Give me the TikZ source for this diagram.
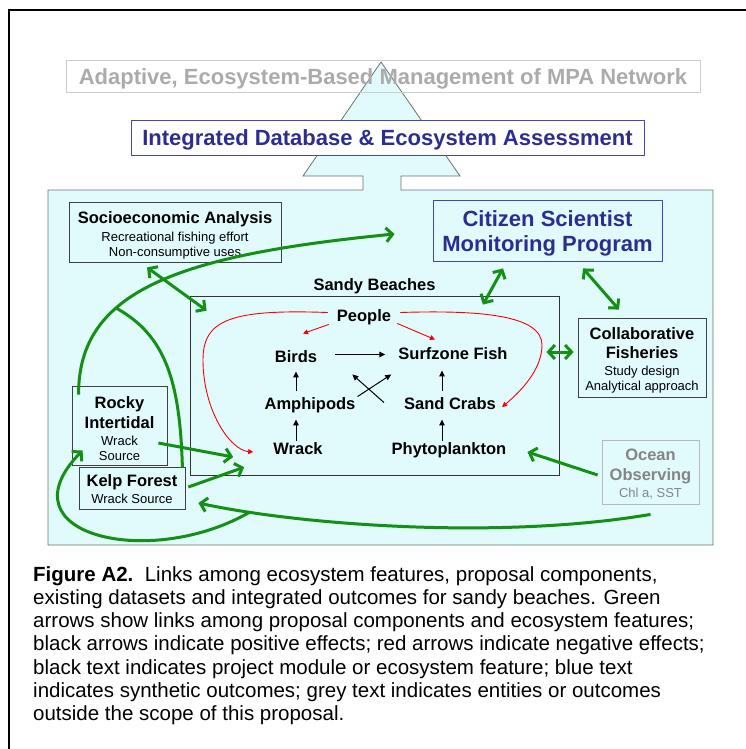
\documentclass[tikz,border=0pt]{standalone}
\usepackage{fontspec}
\setmainfont{Liberation Sans}
\usetikzlibrary{positioning,arrows.meta}

\definecolor{seafill}{RGB}{225,250,252}
\definecolor{edgegrey}{RGB}{105,115,115}
\definecolor{leafgreen}{RGB}{20,145,20}
\definecolor{deepblue}{RGB}{45,45,145}
\definecolor{boxblue}{RGB}{70,70,175}

\newcommand\boxhead{\fontsize{16.5}{19}\selectfont\bfseries}
\newcommand\boxnote{\fontsize{13}{15}\selectfont}
\newcommand\bighead{\fontsize{22}{25}\selectfont\bfseries}
% strut that pushes a box's text a little lower
\newcommand\toplift[1]{\rule{0pt}{#1}}

\begin{document}
\begin{tikzpicture}[x=1pt, y=-1pt,
module/.style={draw=black!75, align=center, inner sep=0pt, line width=0.8pt, font=\boxnote},
outcome/.style={draw=boxblue, text=deepblue, font=\bighead, align=center, inner sep=0pt, line width=0.8pt},
feat/.style={font=\boxhead, inner sep=2pt, text height=12pt, text depth=3.5pt},
link/.style={leafgreen, line width=3pt, -{Straight Barb[length=6.5pt,width=14pt]}},
twoway/.style={link, {Straight Barb[length=6.5pt,width=14pt]}-{Straight Barb[length=6.5pt,width=14pt]}},
gain/.style={-{Triangle[length=6pt,width=5.5pt]}, line width=1pt},
loss/.style={red, -{Triangle[length=5pt,width=5pt]}, line width=0.9pt}
]
\useasboundingbox (0,0) rectangle (746,749);
\draw[line width=1.8pt] (9,749) -- (9,10) -- (746,10);

% panel with the arrow up to the top boxes
\draw[fill=seafill, draw=edgegrey, line width=0.8pt] (48,190) -- (363,190) -- (363,176) -- (303,176)
  -- (381,62) -- (460,176) -- (401,176) -- (401,190) -- (713,190) -- (713,545) -- (48,545) -- cycle;

\node[draw=black!20, text=black!33, font=\bighead, minimum width=634pt, minimum height=32pt, inner sep=0pt] (mgmt) at (383,76) {\toplift{22pt}Adaptive, Ecosystem-Based Management of MPA Network};
\node[outcome, fill=white, minimum width=513pt, minimum height=35pt] (ida) at (387.5,137.5) {\toplift{20pt}Integrated Database \& Ecosystem Assessment};

% modules
\node[module, minimum width=212pt, minimum height=60pt] (socio) at (175,232) {{\boxhead\toplift{18pt}Socioeconomic Analysis}\\[2.7pt]Recreational fishing effort\\Non-consumptive uses};
\node[outcome, minimum width=229pt, minimum height=61pt] (citizen) at (547.5,230.5) {\toplift{22pt}Citizen Scientist\\Monitoring Program};
\node[module, minimum width=128pt, minimum height=79pt] (collab) at (642,357.5) {{\boxhead\toplift{18pt}Collaborative}\\[4pt]{\boxhead Fisheries}\\[1.7pt]Study design\\Analytical approach};
\node[module, fill=seafill, minimum width=95pt, minimum height=79pt] (rocky) at (119.5,425.5) {{\boxhead\toplift{18pt}Rocky}\\[4pt]{\boxhead Intertidal}\\[1.7pt]Wrack\\Source};
\node[module, fill=seafill, minimum width=106pt, minimum height=42pt] (kelp) at (132,488) {{\boxhead\toplift{14pt}Kelp Forest}\\[1.7pt]Wrack Source};
\node[module, draw=black!28, text=black!48, minimum width=97pt, minimum height=64pt] (ocean) at (650.5,472) {{\boxhead\toplift{16pt}Ocean}\\[5pt]{\boxhead Observing}\\[1.7pt]Chl a, SST};

% sandy beach food web
\node[draw=black!80, line width=0.8pt, minimum width=369pt, minimum height=179pt, inner sep=0pt] (beach) at (374.5,385.5) {};
\node[feat, above=-1pt of beach] (beachlbl) {Sandy Beaches};
\node[feat] (people) at (364,317.5) {People};
\node[feat] (birds) at (296,358.5) {Birds};
\node[feat] (fish) at (453,355.5) {Surfzone Fish};
\node[feat] (amph) at (310,405.5) {Amphipods};
\node[feat] (crabs) at (450,405.5) {Sand Crabs};
\node[feat] (wrack) at (298,450.5) {Wrack};
\node[feat] (phyto) at (449,450.5) {Phytoplankton};

\draw[gain, shorten >=4pt] (wrack.north -| birds) -- (amph.south -| birds);
\draw[gain, shorten <=5pt, shorten >=3pt] (amph.north -| birds) -- (birds.south);
\draw[gain, shorten <=16pt, shorten >=11pt] ([yshift=4pt]birds.east) -- ([yshift=4pt]birds.east -| fish.west);
\draw[gain, shorten >=4pt] ([xshift=-7pt]phyto.north) -- ([xshift=-7pt]phyto.north |- crabs.south);
\draw[gain, shorten <=5pt, shorten >=5pt] ([xshift=-8pt]crabs.north) -- ([xshift=-8pt]crabs.north |- fish.south);
\draw[gain] ([yshift=-1pt]amph.north east) -- ([xshift=-5pt,yshift=-9pt]fish.south west);
\draw[gain] ([xshift=-18pt,yshift=3pt]crabs.west) -- ([xshift=33pt,yshift=-6pt]birds.south east);

\draw[loss] ([xshift=-6pt,yshift=3pt]people.south west) -- ([xshift=7pt,yshift=15pt]birds.north);
\draw[loss] ([xshift=4pt,yshift=4pt]people.south east) -- ([xshift=-18pt,yshift=6pt]fish.north);
\draw[loss] ([xshift=-7pt,yshift=5pt]people.west) .. controls (230,309) and (203,320) .. (203,360)
  .. controls (203,410) and (230,450) .. ([xshift=-18pt,yshift=-1.5pt]wrack.west);
\draw[loss] ([xshift=7pt,yshift=5pt]people.east) .. controls (480,310) and (542,315) .. (542,345)
  .. controls (542,370) and (520,392) .. ([xshift=4pt,yshift=-1.5pt]crabs.east);

% links between modules and the beach
\coordinate (merge) at (116,308);
\coordinate (split) at (250,512);
\draw[twoway] ([xshift=-28pt,yshift=-5pt]socio.south) -- ([xshift=17pt,yshift=-15pt]beach.north west);
\draw[twoway] ([xshift=-44.5pt,yshift=-7pt]citizen.south) -- ([xshift=108.5pt,yshift=-9pt]beach.north);
\draw[twoway] ([xshift=35.5pt,yshift=-7pt]citizen.south) -- ([xshift=-23pt,yshift=8pt]collab.north);
\draw[twoway] ([xshift=-13pt,yshift=33.5pt]beach.east) -- ([xshift=-4pt,yshift=5.5pt]collab.west);
\draw[link] ([xshift=-4pt,yshift=-3pt]ocean.west) -- ([xshift=19pt,yshift=-1.5pt]phyto.east);
\draw[link] ([xshift=-9pt,yshift=-17.5pt]rocky.east) -- ([xshift=-38pt,yshift=-6.5pt]wrack.west);
\draw[link] ([xshift=3pt,yshift=1pt]kelp.east) -- ([xshift=-27pt,yshift=-6.75pt]wrack.south west);
\draw[link] ([xshift=7pt,yshift=-9pt]rocky.north west) .. controls (78,290) and (180,255) .. ([xshift=-38pt,yshift=-3.5pt]citizen.west);
\draw[leafgreen, line width=3pt] ([xshift=-3pt,yshift=-1pt]kelp.north east) .. controls (180,380) and (165,335) .. (merge);
\draw[link] ([yshift=-10pt]ocean.south) .. controls (500,540) and (300,525) .. ([xshift=13pt,yshift=-15pt]kelp.east);
\draw[link] (split) .. controls (150,570) and (0,535) .. ([xshift=11pt,yshift=15pt]rocky.south west);

\node[anchor=north west, inner sep=0pt, align=left, font=\fontsize{20.5}{23.3}\selectfont] (caption) at (33,566)
{{\bfseries Figure A2.}\ \ Links among ecosystem features, proposal components,\\
existing datasets and integrated outcomes for sandy beaches. Green\\
arrows show links among proposal components and ecosystem features;\\
black arrows indicate positive effects; red arrows indicate negative effects;\\
black text indicates project module or ecosystem feature; blue text\\
indicates synthetic outcomes; grey text indicates entities or outcomes\\
outside the scope of this proposal.};
\end{tikzpicture}
\end{document}
